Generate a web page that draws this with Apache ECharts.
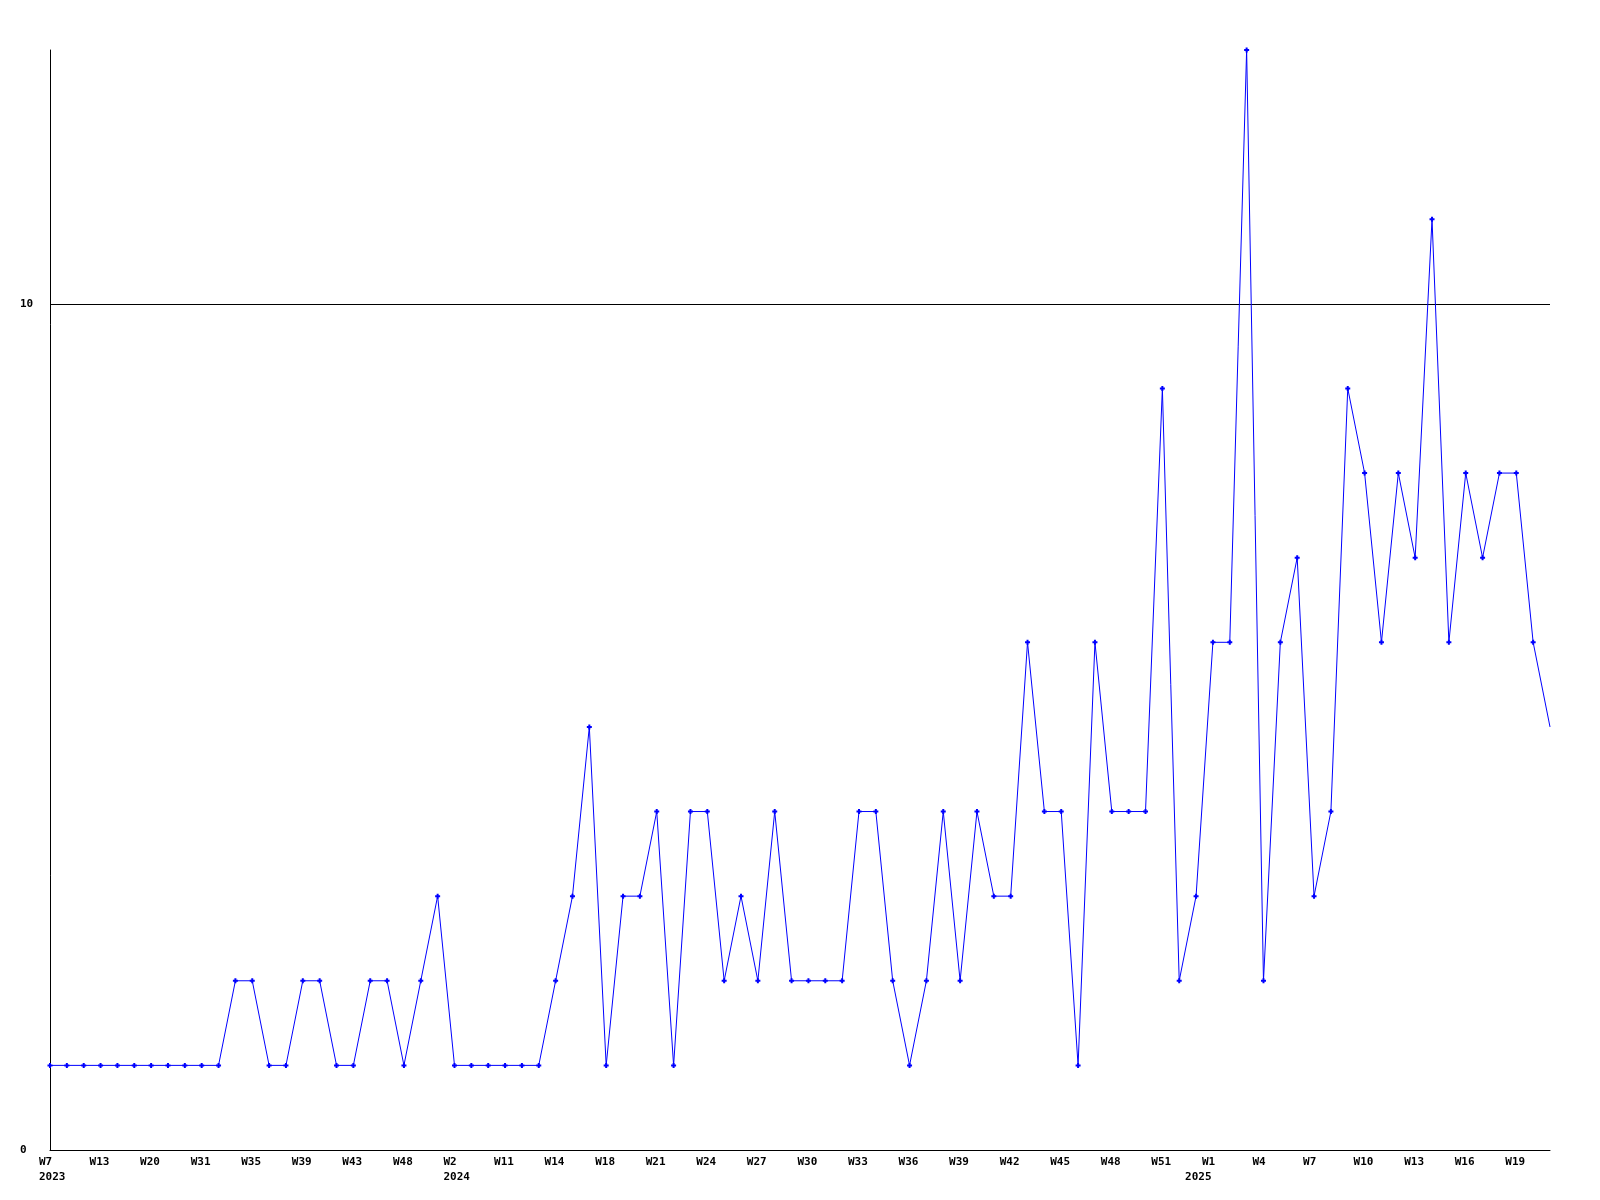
<!DOCTYPE html>
<html>
<head>
<meta charset="utf-8">
<script src="https://cdn.jsdelivr.net/npm/echarts@6/dist/echarts.min.js"></script>
<style>
html,body{margin:0;padding:0;background:#fff;}
#chart{width:1600px;height:1200px;}
</style>
</head>
<body>
<div id="chart"></div>
<script>
// one value per point (90 points); tick labels every 3rd point
const values = [
  1,1,1,1,1,1,1,1,1,1,
  1,2,2,1,1,2,2,1,1,2,
  2,1,2,3,1,1,1,1,1,1,
  2,3,5,1,3,3,4,1,4,4,
  2,3,2,4,2,2,2,2,4,4,
  2,1,2,4,2,4,3,3,6,4,
  4,1,6,4,4,4,9,2,3,6,
  6,13,2,6,7,3,4,9,8,6,
  8,7,11,6,8,7,8,8,6,5
];
const tickLabels = ['W7','W13','W20','W31','W35','W39','W43','W48','W2','W11',
  'W14','W18','W21','W24','W27','W30','W33','W36','W39','W42',
  'W45','W48','W51','W1','W4','W7','W10','W13','W16','W19'];
const tickStep = 3;
const yearNames = ['2023','2024','2025'];
const yearIdx = [0, 24, 68];
const yTicks = [0, 10];
const yMax = 13;

const categories = values.map((v, i) => String(i));
const fontFam = '"DejaVu Sans Mono", monospace';

const chart = echarts.init(document.getElementById('chart'), null, {renderer: 'canvas'});
chart.setOption({
  animation: false,
  backgroundColor: '#fff',
  grid: {left: 50, right: 50, top: 50, bottom: 50, containLabel: false},
  xAxis: [{
    type: 'category',
    data: categories,
    boundaryGap: false,
    axisLine: {show: true, lineStyle: {color: '#000', width: 1}},
    axisTick: {show: false},
    splitLine: {show: false},
    axisLabel: {
      interval: 0,
      margin: 7,
      align: 'left',
      padding: [0, 0, 0, -11],
      color: '#000',
      fontFamily: fontFam,
      fontWeight: 'bold',
      fontSize: 11,
      formatter: (val, idx) => (idx % tickStep === 0 ? tickLabels[idx / tickStep] : '')
    }
  }, {
    type: 'category',
    data: categories,
    boundaryGap: false,
    position: 'bottom',
    offset: 15,
    axisLine: {show: false},
    axisTick: {show: false},
    splitLine: {show: false},
    axisLabel: {
      interval: 0,
      margin: 7,
      align: 'left',
      padding: [0, 0, 0, -11],
      color: '#000',
      fontFamily: fontFam,
      fontWeight: 'bold',
      fontSize: 11,
      formatter: (val, idx) => {
        const k = yearIdx.indexOf(idx);
        return k >= 0 ? yearNames[k] : '';
      }
    }
  }],
  yAxis: {
    type: 'value',
    min: yTicks[0],
    max: yMax,
    interval: yTicks[1] - yTicks[0],
    axisLine: {show: true, lineStyle: {color: '#000', width: 1}},
    axisTick: {show: false},
    axisLabel: {
      showMaxLabel: false,
      margin: 30,
      align: 'left',
      color: '#000',
      fontFamily: fontFam,
      fontWeight: 'bold',
      fontSize: 11
    },
    splitLine: {show: true, lineStyle: {color: ['#000', '#000', 'rgba(0,0,0,0)'], width: 1}}
  },
  series: [{
    type: 'line',
    xAxisIndex: 0,
    data: values.map((v, i) => (i === values.length - 1 ? {value: v, symbol: 'none'} : v)),
    symbol: 'path://M1.5,0H3.5V1.5H5V3.5H3.5V5H1.5V3.5H0V1.5H1.5Z',
    symbolSize: 5,
    showAllSymbol: true,
    lineStyle: {color: '#0000ff', width: 1},
    itemStyle: {color: '#0000ff', borderWidth: 0},
    emphasis: {disabled: true}
  }]
});
</script>
</body>
</html>
